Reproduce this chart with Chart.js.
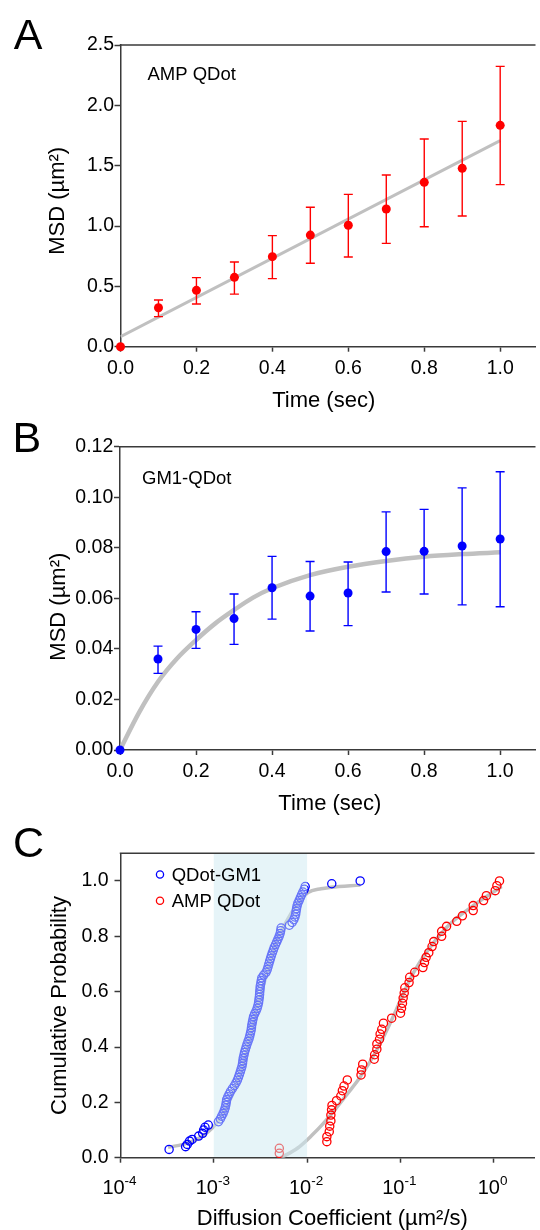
<!DOCTYPE html>
<html>
<head>
<meta charset="utf-8">
<script src="https://cdn.jsdelivr.net/npm/chart.js@4.4.1/dist/chart.umd.min.js"></script>
<style>
  html, body { margin: 0; padding: 0; background: #fff; overflow: hidden; }
  body { width: 540px; height: 1230px; position: relative; }
  .panel { position: absolute; left: 0; width: 540px; }
  #panelA { top: 0; height: 420px; }
  #panelB { top: 410px; height: 410px; }
  #panelC { top: 810px; height: 430px; }
</style>
</head>
<body>
<div class="panel" id="panelA"><canvas id="chartA"></canvas></div>
<div class="panel" id="panelB"><canvas id="chartB"></canvas></div>
<div class="panel" id="panelC"><canvas id="chartC"></canvas></div>
<script>
// ---- data ----
const timeSec = [0, 0.1, 0.2, 0.3, 0.4, 0.5, 0.6, 0.7, 0.8, 0.9, 1.0];

// A: AMP QDot MSD (um^2)
const ampMsd     = [0, 0.323, 0.467, 0.575, 0.746, 0.925, 1.006, 1.141, 1.362, 1.478, 1.834];
const ampErrHigh = [0, 0.387, 0.572, 0.702, 0.920, 1.155, 1.262, 1.423, 1.721, 1.867, 2.323];
const ampErrLow  = [0, 0.249, 0.354, 0.436, 0.564, 0.691, 0.743, 0.856, 0.994, 1.083, 1.343];
const ampFitTime = [0, 1.0];
const ampFitMsd  = [0.083, 1.707];

// B: GM1-QDot MSD (um^2)
const gm1Msd     = [0, 0.0360, 0.0477, 0.0520, 0.0642, 0.0609, 0.0621, 0.0785, 0.0786, 0.0807, 0.0835];
const gm1ErrHigh = [0, 0.0411, 0.0547, 0.0617, 0.0766, 0.0746, 0.0744, 0.0942, 0.0952, 0.1037, 0.1101];
const gm1ErrLow  = [0, 0.0303, 0.0402, 0.0418, 0.0518, 0.0471, 0.0492, 0.0625, 0.0617, 0.0574, 0.0567];
const gm1FitTime = [0, 0.05, 0.1, 0.15, 0.2, 0.25, 0.3, 0.35, 0.4, 0.5, 0.6, 0.7, 0.8, 0.9, 1.0];
const gm1FitMsd  = [0, 0.0148, 0.0270, 0.0362, 0.0435, 0.0500, 0.0554, 0.0603, 0.0640, 0.0692, 0.0725, 0.0748, 0.0765, 0.0775, 0.0782];

// C: cumulative distributions of diffusion coefficient (um^2/s)
const gm1D = [
  0.000332, 0.000499, 0.00052, 0.00055, 0.000586, 0.000689, 0.00076, 0.000778, 0.000805, 0.000873,
  0.001122, 0.001175, 0.001216, 0.001259, 0.001294, 0.001324, 0.001346, 0.001361, 0.001374, 0.001413,
  0.001462, 0.001514, 0.001585, 0.00166, 0.00173, 0.00179, 0.001837, 0.00188, 0.001923, 0.001963,
  0.002004, 0.002032, 0.002051, 0.00207, 0.002104, 0.002133, 0.002178, 0.002223, 0.00227, 0.002328,
  0.002388, 0.002432, 0.002472, 0.002512, 0.002535, 0.002559, 0.002594, 0.00263, 0.002667, 0.002742,
  0.002838, 0.002917, 0.002972, 0.00302, 0.003048, 0.003076, 0.003097, 0.003112, 0.003133, 0.003148,
  0.003192, 0.003228, 0.003273, 0.003428, 0.003631, 0.003741, 0.003819, 0.00389, 0.003972, 0.004055,
  0.00414, 0.004236, 0.004345, 0.004446, 0.004592, 0.004732, 0.004875, 0.005023, 0.00514, 0.005212,
  0.005272, 0.006457, 0.006918, 0.007211, 0.007413, 0.007551, 0.007621, 0.007709, 0.007816, 0.00798,
  0.008241, 0.008472, 0.00873, 0.009016, 0.009333, 0.00955, 0.0184, 0.0371
];
const gm1Prob = [
  0.030, 0.040, 0.048, 0.060, 0.066, 0.078, 0.088, 0.100, 0.110, 0.118,
  0.13, 0.14, 0.15, 0.16, 0.17, 0.18, 0.19, 0.20, 0.21, 0.22,
  0.23, 0.24, 0.25, 0.26, 0.27, 0.28, 0.29, 0.30, 0.31, 0.32,
  0.33, 0.34, 0.35, 0.36, 0.37, 0.38, 0.39, 0.40, 0.41, 0.42,
  0.43, 0.44, 0.45, 0.46, 0.47, 0.48, 0.49, 0.50, 0.51, 0.52,
  0.53, 0.54, 0.55, 0.56, 0.57, 0.58, 0.59, 0.60, 0.61, 0.62,
  0.63, 0.64, 0.65, 0.66, 0.67, 0.68, 0.69, 0.70, 0.71, 0.72,
  0.73, 0.74, 0.75, 0.76, 0.77, 0.78, 0.79, 0.80, 0.81, 0.82,
  0.83, 0.84, 0.85, 0.86, 0.87, 0.88, 0.89, 0.90, 0.91, 0.92,
  0.93, 0.94, 0.95, 0.96, 0.97, 0.98, 0.99, 1.00
];
const ampD = [
  0.00504, 0.00504, 0.0163, 0.0163, 0.0173, 0.0175, 0.0180, 0.0180, 0.0183, 0.0185,
  0.0207, 0.0230, 0.0239, 0.0249, 0.0270, 0.0379, 0.0383, 0.0395, 0.0525, 0.0530,
  0.0560, 0.0560, 0.0598, 0.0607, 0.0632, 0.0659, 0.0807, 0.1005, 0.103, 0.1054,
  0.1072, 0.110, 0.1117, 0.124, 0.126, 0.1426, 0.1746, 0.1816, 0.189, 0.2018,
  0.2188, 0.228, 0.2773, 0.2773, 0.313, 0.4027, 0.4624, 0.604, 0.604, 0.781,
  0.836, 1.04, 1.084, 1.156
];
const ampProb = [
  0.016, 0.034, 0.058, 0.076, 0.094, 0.114, 0.133, 0.154, 0.173, 0.189,
  0.206, 0.223, 0.242, 0.259, 0.281, 0.299, 0.317, 0.338, 0.356, 0.372,
  0.392, 0.411, 0.428, 0.447, 0.464, 0.486, 0.504, 0.522, 0.540, 0.558,
  0.577, 0.595, 0.614, 0.633, 0.652, 0.670, 0.687, 0.705, 0.724, 0.741,
  0.763, 0.781, 0.800, 0.818, 0.836, 0.854, 0.874, 0.893, 0.911, 0.929,
  0.947, 0.965, 0.983, 1.000
];
const gm1FitD    = [0.000324, 0.000468, 0.000708, 0.001047, 0.00141, 0.0020, 0.00263, 0.00355, 0.00457, 0.00575, 0.00794, 0.01023, 0.01413, 0.0180, 0.0372];
const gm1FitProb = [0.038, 0.048, 0.072, 0.120, 0.19, 0.32, 0.48, 0.644, 0.77, 0.842, 0.918, 0.958, 0.972, 0.977, 0.985];
const ampFitD    = [0.00525, 0.00794, 0.0112, 0.0148, 0.0195, 0.0269, 0.0359, 0.0562, 0.0813, 0.138, 0.309, 0.589, 1.22];
const ampFitProb = [0.0, 0.035, 0.08, 0.122, 0.17, 0.23, 0.284, 0.39, 0.5, 0.668, 0.83, 0.908, 0.98];
const shadeRange = [0.001, 0.01];

// ticks
const timeTicks = [0, 0.2, 0.4, 0.6, 0.8, 1.0];
const timeTickLabels = ['0.0', '0.2', '0.4', '0.6', '0.8', '1.0'];
const ampYTicks = [0, 0.5, 1.0, 1.5, 2.0, 2.5];
const ampYTickLabels = ['0.0', '0.5', '1.0', '1.5', '2.0', '2.5'];
const gm1YTicks = [0, 0.02, 0.04, 0.06, 0.08, 0.10, 0.12];
const gm1YTickLabels = ['0.00', '0.02', '0.04', '0.06', '0.08', '0.10', '0.12'];
const probTicks = [0, 0.2, 0.4, 0.6, 0.8, 1.0];
const probTickLabels = ['0.0', '0.2', '0.4', '0.6', '0.8', '1.0'];
const diffTicks = [1e-4, 1e-3, 1e-2, 1e-1, 1];
const diffTickExponents = ['-4', '-3', '-2', '-1', '0'];

// ---- styling ----
const FONT = '"Liberation Sans", Arial, Helvetica, sans-serif';
const AXIS_COLOR = '#3a3a3a';
const FIT_COLOR = '#c0c0c0';

Chart.defaults.font.family = FONT;
Chart.defaults.color = '#000';
Chart.defaults.animation = false;
Chart.defaults.events = [];
Chart.defaults.plugins.legend.display = false;
Chart.defaults.plugins.tooltip.enabled = false;

const toXY = (xs, ys) => xs.map((x, i) => ({ x, y: ys[i] }));

function axis(type, min, max, ticks, labels, o) {
  return {
    type, min, max,
    afterBuildTicks: s => { s.ticks = ticks.map(v => ({ value: v })); },
    afterFit: s => {
      if (o.width) s.width = o.width;
      if (o.height) s.height = o.height;
    },
    ticks: {
      display: labels !== null,
      callback: (v, i) => (labels ? labels[i] : ''),
      color: '#000',
      font: { size: 19.5 },
      padding: o.pad,
      maxRotation: 0,
      autoSkip: false,
    },
    grid: { drawOnChartArea: false, drawTicks: true, tickLength: o.tick, tickWidth: 1.5, tickColor: AXIS_COLOR },
    border: { display: true, color: AXIS_COLOR, width: 1.5 },
  };
}

function drawErrorBars(chart, eb) {
  const { ctx, scales: { x, y } } = chart;
  ctx.save();
  ctx.strokeStyle = eb.color;
  ctx.lineWidth = 1.4;
  eb.x.forEach((t, i) => {
    if (eb.high[i] === eb.low[i]) return;
    const px = x.getPixelForValue(t);
    const top = y.getPixelForValue(eb.high[i]);
    const bot = y.getPixelForValue(eb.low[i]);
    ctx.beginPath();
    ctx.moveTo(px, top); ctx.lineTo(px, bot);
    ctx.moveTo(px - 4.5, top); ctx.lineTo(px + 4.5, top);
    ctx.moveTo(px - 4.5, bot); ctx.lineTo(px + 4.5, bot);
    ctx.stroke();
  });
  ctx.restore();
}

function decor(o) {
  return {
    id: 'decor',
    afterDatasetDraw(chart, args) {
      if (o.errorBars && args.index === o.errorBars.after) drawErrorBars(chart, o.errorBars);
    },
    afterDatasetsDraw(chart) {
      if (!o.shade) return;
      const { ctx, chartArea: a, scales: { x } } = chart;
      const x1 = x.getPixelForValue(o.shade[0]);
      const x2 = x.getPixelForValue(o.shade[1]);
      ctx.save();
      ctx.fillStyle = 'rgba(205, 233, 241, 0.5)';
      ctx.fillRect(x1, a.top, x2 - x1, a.bottom - a.top - 0.8);
      ctx.restore();
    },
    afterDraw(chart) {
      const { ctx, chartArea: a } = chart;
      ctx.save();
      // top frame line
      ctx.strokeStyle = AXIS_COLOR;
      ctx.lineWidth = 1.5;
      ctx.beginPath();
      ctx.moveTo(a.left - 0.75, a.top);
      ctx.lineTo(a.right, a.top);
      ctx.stroke();

      ctx.fillStyle = '#000';
      ctx.textBaseline = 'alphabetic';
      (o.texts || []).forEach(t => {
        ctx.save();
        ctx.font = `${t.size}px ${FONT}`;
        ctx.textAlign = t.align || 'left';
        ctx.translate(t.x, t.y);
        if (t.rotate) ctx.rotate(t.rotate);
        ctx.fillText(t.text, 0, 0);
        ctx.restore();
      });

      // power-of-ten tick labels
      if (o.powerTicks) {
        const xs = chart.scales.x;
        o.powerTicks.values.forEach((v, i) => {
          const px = xs.getPixelForValue(v);
          const exp = o.powerTicks.exponents[i];
          ctx.font = `20px ${FONT}`;
          const w1 = ctx.measureText('10').width;
          ctx.font = `13.5px ${FONT}`;
          const w2 = ctx.measureText(exp).width;
          const start = px - (w1 + w2) / 2 - 1;
          ctx.textAlign = 'left';
          ctx.font = `20px ${FONT}`;
          ctx.fillText('10', start, o.powerTicks.baseY);
          ctx.font = `13.5px ${FONT}`;
          ctx.fillText(exp, start + w1, o.powerTicks.baseY - 8.8);
        });
      }

      if (o.legend) {
        o.legend.forEach(l => {
          ctx.beginPath();
          ctx.strokeStyle = l.color;
          ctx.lineWidth = 1.3;
          ctx.arc(l.x, l.y, 3.6, 0, Math.PI * 2);
          ctx.stroke();
          ctx.font = `18.5px ${FONT}`;
          ctx.textAlign = 'left';
          ctx.fillStyle = '#000';
          ctx.fillText(l.text, l.x + 11.7, l.y + 6.2);
        });
      }
      ctx.restore();
    },
  };
}

// ---- A ----
new Chart(document.getElementById('chartA'), {
  type: 'scatter',
  data: {
    datasets: [
      { data: toXY(timeSec, ampMsd), backgroundColor: '#ff0000', borderWidth: 0, pointRadius: 4.5, order: 1, clip: false },
      { data: toXY(ampFitTime, ampFitMsd), showLine: true, borderColor: FIT_COLOR, borderWidth: 3, pointRadius: 0, order: 2 },
    ],
  },
  options: {
    responsive: true,
    maintainAspectRatio: false,
    layout: { padding: { top: 45, left: 0, right: 0, bottom: 0 } },
    scales: {
      x: axis('linear', 0, 1.093, timeTicks, timeTickLabels, { height: 73.3, tick: 5, pad: 5.4 }),
      y: axis('linear', 0, 2.5, ampYTicks, ampYTickLabels, { width: 120.5, tick: 6, pad: 0.5 }),
    },
  },
  plugins: [decor({
    errorBars: { after: 1, x: timeSec, high: ampErrHigh, low: ampErrLow, color: '#ff0000' },
    texts: [
      { text: 'A', x: 13.8, y: 49, size: 43 },
      { text: 'AMP QDot', x: 147.4, y: 80, size: 18.5 },
      { text: 'Time (sec)', x: 323.7, y: 407.1, size: 22, align: 'center' },
      { text: 'MSD (\u00b5m\u00b2)', x: 64.4, y: 200.8, size: 22, align: 'center', rotate: -Math.PI / 2 },
    ],
  })],
});

// ---- B ----
new Chart(document.getElementById('chartB'), {
  type: 'scatter',
  data: {
    datasets: [
      { data: toXY(timeSec, gm1Msd), backgroundColor: '#0000ff', borderWidth: 0, pointRadius: 4.5, order: 1, clip: false },
      { data: toXY(gm1FitTime, gm1FitMsd), showLine: true, borderColor: FIT_COLOR, borderWidth: 4.5, pointRadius: 0, cubicInterpolationMode: 'monotone', order: 2 },
    ],
  },
  options: {
    responsive: true,
    maintainAspectRatio: false,
    layout: { padding: { top: 36.7, left: 0, right: 0, bottom: 0 } },
    scales: {
      x: axis('linear', 0, 1.093, timeTicks, timeTickLabels, { height: 70, tick: 5, pad: 5.4 }),
      y: axis('linear', 0, 0.12, gm1YTicks, gm1YTickLabels, { width: 120, tick: 6, pad: 0.7 }),
    },
  },
  plugins: [decor({
    errorBars: { after: 1, x: timeSec, high: gm1ErrHigh, low: gm1ErrLow, color: '#0000ff' },
    texts: [
      { text: 'B', x: 12.4, y: 41.7, size: 43 },
      { text: 'GM1-QDot', x: 142, y: 74, size: 18.5 },
      { text: 'Time (sec)', x: 329.9, y: 400.4, size: 22, align: 'center' },
      { text: 'MSD (\u00b5m\u00b2)', x: 64.7, y: 196.7, size: 22, align: 'center', rotate: -Math.PI / 2 },
    ],
  })],
});

// ---- C ----
new Chart(document.getElementById('chartC'), {
  type: 'scatter',
  data: {
    datasets: [
      { data: toXY(gm1D, gm1Prob), borderColor: '#0000ff', backgroundColor: 'rgba(0,0,0,0)', borderWidth: 1.3, pointRadius: 4.1, order: 1, clip: false },
      { data: toXY(ampD, ampProb), borderColor: '#ff0000', backgroundColor: 'rgba(0,0,0,0)', borderWidth: 1.3, pointRadius: 4.1, order: 1, clip: false },
      { data: toXY(gm1FitD, gm1FitProb), showLine: true, borderColor: FIT_COLOR, borderWidth: 3.5, pointRadius: 0, cubicInterpolationMode: 'monotone', order: 2 },
      { data: toXY(ampFitD, ampFitProb), showLine: true, borderColor: FIT_COLOR, borderWidth: 3.5, pointRadius: 0, cubicInterpolationMode: 'monotone', order: 2 },
    ],
  },
  options: {
    responsive: true,
    maintainAspectRatio: false,
    layout: { padding: { top: 43.3, left: 0, right: 0, bottom: 0 } },
    scales: {
      x: axis('logarithmic', 1e-4, 2.75, diffTicks, null, { height: 82.3, tick: 5, pad: 6 }),
      y: axis('linear', 0, 1.1, probTicks, probTickLabels, { width: 120.5, tick: 6, pad: 6 }),
    },
  },
  plugins: [decor({
    shade: shadeRange,
    powerTicks: { values: diffTicks, exponents: diffTickExponents, baseY: 384 },
    legend: [
      { color: '#0000ff', text: 'QDot-GM1', x: 160, y: 64.5 },
      { color: '#ff0000', text: 'AMP QDot', x: 160, y: 90.7 },
    ],
    texts: [
      { text: 'C', x: 13, y: 47, size: 43 },
      { text: 'Diffusion Coefficient (\u00b5m\u00b2/s)', x: 332.3, y: 415, size: 22, align: 'center' },
      { text: 'Cumulative Probability', x: 66, y: 195.5, size: 22, align: 'center', rotate: -Math.PI / 2 },
    ],
  })],
});
</script>
</body>
</html>
